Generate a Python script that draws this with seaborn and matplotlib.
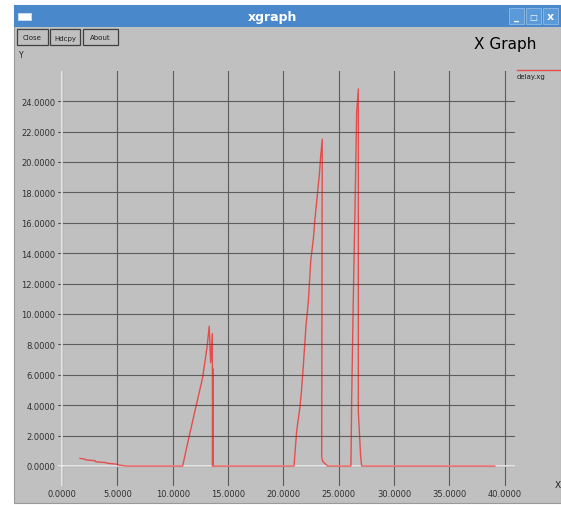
import numpy as np
import pandas as pd
import matplotlib
matplotlib.use("Agg")
import matplotlib.pyplot as plt
import seaborn as sns
from matplotlib.patches import Rectangle

# --------------------------------------------------------------
# delay.xg verisi
# --------------------------------------------------------------
time_s = [1.63, 2.08, 2.15, 2.98, 3.05, 4.0, 4.08, 4.94, 5.02, 5.84,
          10.9, 11.5, 12.1, 12.7, 13.1, 13.3, 13.43, 13.58, 13.6, 13.62, 13.63, 13.64, 13.66,
          20.96, 21.05, 21.2, 21.5, 21.65, 21.8, 22.04, 22.25, 22.47, 22.7, 22.85,
          23.06, 23.24, 23.37, 23.51, 23.46, 23.55, 24.0,
          26.1, 26.17, 26.31, 26.47, 26.62, 26.77, 26.77, 26.98, 27.07, 39.1]
delay = [0.5, 0.45, 0.4, 0.35, 0.28, 0.22, 0.18, 0.12, 0.07, 0.0,
         0.0, 2.0, 3.9, 5.8, 7.8, 9.2, 6.8, 8.7, 0.0, 6.4, 2.1, 6.2, 0.0,
         0.0, 0.9, 2.3, 3.9, 5.1, 6.6, 9.2, 10.8, 13.5, 14.9, 16.25,
         17.8, 19.1, 20.4, 21.5, 0.6, 0.3, 0.0,
         0.0, 4.5, 10.8, 17.0, 23.3, 24.8, 3.55, 0.6, 0.0, 0.0]

x_ticks = [0, 5, 10, 15, 20, 25, 30, 35, 40]
y_ticks = [0, 2, 4, 6, 8, 10, 12, 14, 16, 18, 20, 22, 24]

df = pd.DataFrame({"t": time_s, "delay": delay})

W, H = 561, 506
BG = "#c0c0c0"

def px(x, y):
    return x / W, 1 - y / H

def box(x0, y0, x1, y1, **kw):
    # piksel koordinatlarinda dikdortgen (ust-sol orijin)
    r = Rectangle(px(x0, y1), (x1 - x0) / W, (y1 - y0) / H,
                  transform=fig.transFigure, zorder=-5, **kw)
    fig.patches.append(r)
    return r

fig = plt.figure(figsize=(W / 100, H / 100), dpi=100, facecolor="white")

# pencere cercevesi
box(14, 6, W, 504, facecolor=BG, edgecolor="#9a9a9a", lw=0.8)
box(14, 6, W, 28, facecolor="#4a88cc", edgecolor="none")
box(18, 14, 31, 21, facecolor="white", edgecolor="#cfe0f0", lw=0.6)
fig.text(*px(272, 17), "xgraph", color="white", fontsize=9, fontweight="bold", ha="center", va="center")
for bx in [509, 526, 543]:
    box(bx, 9, bx + 15, 25, facecolor="#5b9ad8", edgecolor="#8fbbe6", lw=0.6)
fig.text(*px(516.5, 17.5), "_", color="white", fontsize=7, fontweight="bold", ha="center", va="center")
fig.text(*px(533.5, 17.5), "□", color="white", fontsize=6, fontweight="bold", ha="center", va="center")
fig.text(*px(550.5, 17.5), "x", color="white", fontsize=8, fontweight="bold", ha="center", va="center")

# butonlar
for label, bx0, bx1 in [("Close", 17, 48), ("Hdcpy", 50, 80), ("About", 83, 118)]:
    box(bx0, 30, bx1, 46, facecolor=BG, edgecolor="#404040", lw=0.9)
    fig.text(*px((bx0 + bx1) / 2, 38.5), label, fontsize=5, ha="center", va="center", color="#202020")

fig.text(*px(19, 56), "Y", fontsize=5.5, ha="left", va="center", color="#202020")
fig.text(*px(555, 486), "X", fontsize=6.5, ha="left", va="center", color="#202020")
fig.text(*px(505, 45), "X Graph", fontsize=11, ha="center", va="center", color="black")

# legend
fig.lines.append(plt.Line2D([517 / W, 1], [1 - 71 / H] * 2, transform=fig.transFigure,
                            color="#ff0000", alpha=0.6, lw=1.0))
fig.text(*px(517, 77), "delay.xg", fontsize=5, ha="left", va="center", color="#202020")

# --------------------------------------------------------------
# grafik
# --------------------------------------------------------------
x0, x1, y0, y1 = 58, 515, 72, 487
ax = fig.add_axes([x0 / W, 1 - y1 / H, (x1 - x0) / W, (y1 - y0) / H])
ax.set_facecolor(BG)
for s in ax.spines.values():
    s.set_visible(False)

sx, sy = 11.07, 15.2
ax.set_xlim(-(62 - x0) / sx, (x1 - 62) / sx)
ax.set_ylim(-(y1 - 467) / sy, (467 - y0) / sy)

ax.set_axisbelow(True)
ax.grid(True, color="#5c5c5c", lw=0.8)
ax.axvline(0, color="#f2f2f2", lw=1.1, zorder=1)
ax.axhline(0, color="#f2f2f2", lw=1.1, zorder=1)

sns.lineplot(data=df, x="t", y="delay", sort=False, estimator=None, ax=ax,
             color="#ff0000", alpha=0.6, lw=1.0, zorder=3)

ax.set_xticks(x_ticks)
ax.set_yticks(y_ticks)
ax.set_xticklabels([f"{v:.4f}" for v in x_ticks])
ax.set_yticklabels([f"{v:.4f}" for v in y_ticks])
ax.tick_params(length=0, labelsize=6, colors="#303030", pad=2)
ax.set_xlabel("")
ax.set_ylabel("")

fig.savefig("out.png", dpi=100, facecolor="white")
